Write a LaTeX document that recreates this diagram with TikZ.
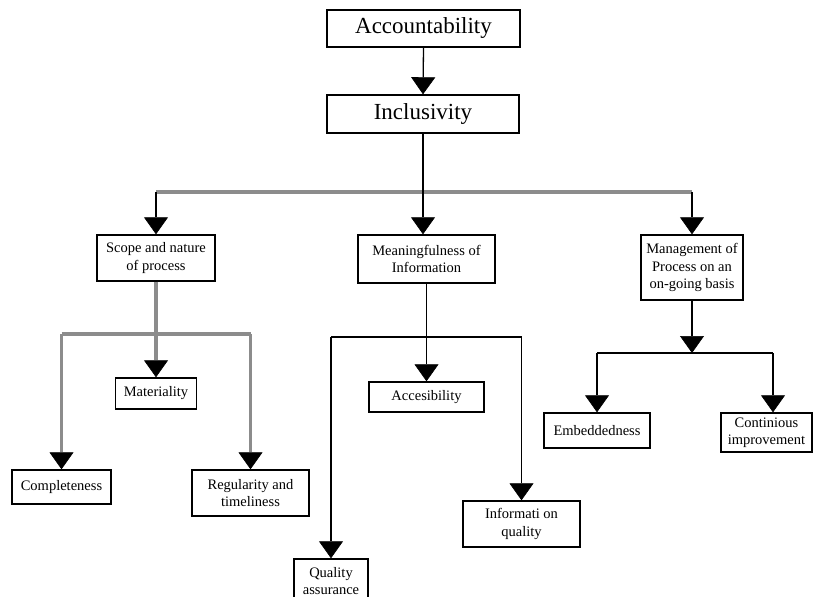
\documentclass[tikz,border=0pt]{standalone}
\usepackage{fontspec}
\setmainfont{Liberation Serif}
\usetikzlibrary{arrows.meta}
\begin{document}
\begin{tikzpicture}[x=1pt,y=-1pt,
  box/.style={draw=black, line width=1.4pt, fill=white, inner sep=0pt, align=center,
              font=\fontsize{14.5}{17.5}\selectfont},
  bigbox/.style={box, font=\fontsize{23}{26}\selectfont},
  conn/.style={draw=black, line width=1.3pt},
  gconn/.style={draw=black!45, line width=3.5pt},
  tip/.style={-{Triangle[width=24pt,length=17pt,line width=0.6pt,color=black]}},
]
\useasboundingbox[fill=white] (0,0) rectangle (815,597);

% nodes
\node[bigbox, minimum width=193pt, minimum height=37pt] (acc) at (423.5,28.5) {Accountability};
\node[bigbox, minimum width=192pt, minimum height=38pt] (inc) at (423,114) {Inclusivity};

\node[box, minimum width=118pt, minimum height=46pt] (scope) at (156,258) {Scope and nature\\of process};
\node[box, minimum width=137pt, minimum height=48pt] (mean) at (426.5,259) {Meaningfulness of\\Information};
\node[box, minimum width=102pt, minimum height=65pt] (mgmt) at (692,267.5) {Management of\\Process on an\\on-going basis};

\node[box, minimum width=81pt, minimum height=31pt] (mat) at (156,393.5) {Materiality};
\node[box, minimum width=99pt, minimum height=34pt] (comp) at (61.5,487) {Completeness};
\node[box, minimum width=117pt, minimum height=46pt] (reg) at (250.5,493) {Regularity and\\timeliness};

\node[box, minimum width=115pt, minimum height=30pt] (accs) at (426.5,397) {Accesibility};
\node[box, minimum width=74pt, minimum height=44pt] (qa) at (331,581) {Quality\\assurance};
\node[box, minimum width=117pt, minimum height=46pt] (iq) at (521.5,524) {Informati on\\quality};

\node[box, minimum width=106pt, minimum height=35pt] (emb) at (597,430.5) {Embeddedness};
\node[box, minimum width=91pt, minimum height=39pt] (cont) at (766.5,432.5) {Continious\\improvement};

% junction coordinates
\coordinate (bar) at (423,192);
\coordinate (sb) at (156,334);
\coordinate (mb) at (427,337);
\coordinate (gb) at (692,353);
\coordinate (gbr) at (773,353);

% top
\draw[conn,tip] (acc.south) -- (inc.north);
\draw[gconn] (scope.north |- bar) -- (mgmt.north |- bar);
\draw[conn,tip] (inc.south) -- (bar |- mean.north);
\draw[conn,tip] (scope.north |- bar) -- (scope.north);
\draw[conn,tip] (mgmt.north |- bar) -- (mgmt.north);

% scope subtree
\draw[gconn] (comp.north |- sb) -- (reg.north |- sb);
\draw[gconn,tip] (scope.south) -- (mat.north);
\draw[gconn,tip] (comp.north |- sb) -- (comp.north);
\draw[gconn,tip] (reg.north |- sb) -- (reg.north);

% meaningfulness subtree
\draw[conn] (qa.north |- mb) -- (iq.north |- mb);
\draw[conn,tip] (mean.south) -- (accs.north);
\draw[conn,tip] (qa.north |- mb) -- (qa.north);
\draw[conn,tip] (iq.north |- mb) -- (iq.north);

% management subtree
\draw[conn,tip] (mgmt.south) -- (gb);
\draw[conn] (emb.north |- gb) -- (gbr);
\draw[conn,tip] (emb.north |- gb) -- (emb.north);
\draw[conn,tip] (gbr) -- (gbr |- cont.north);
\end{tikzpicture}
\end{document}
